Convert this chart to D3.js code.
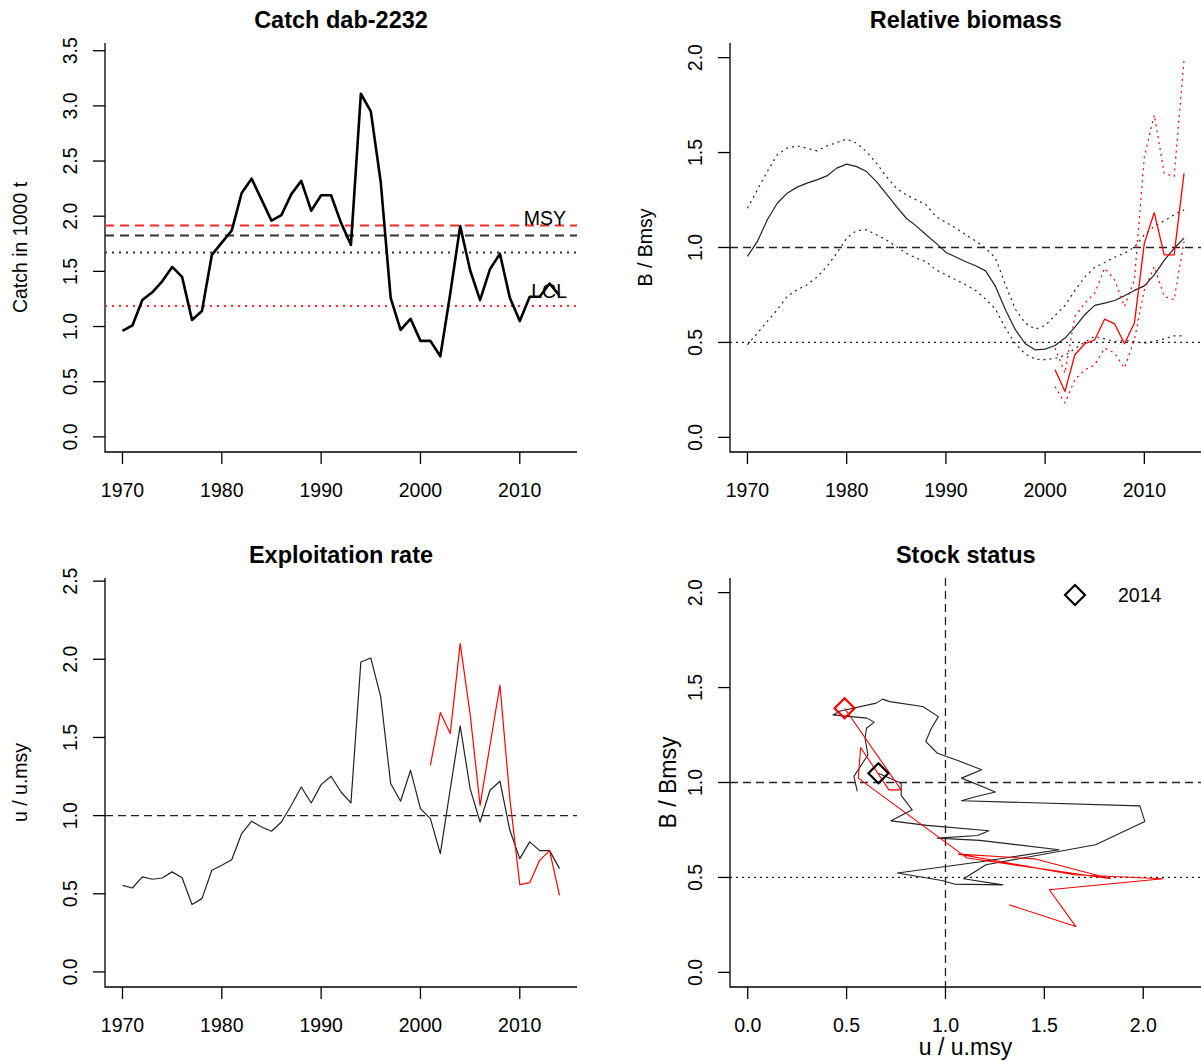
<!DOCTYPE html>
<html>
<head>
<meta charset="utf-8">
<script src="https://cdn.jsdelivr.net/npm/d3@7/dist/d3.min.js"></script>
<style>
  body { margin: 0; background: #fff; }
  text { font-family: "Liberation Sans", Arial, sans-serif; fill: #000; }
</style>
</head>
<body>
<svg id="chart" width="1201" height="1061"></svg>
<script>
// ---- data ----
var years = d3.range(1970, 2015);
var redYears = d3.range(2001, 2015);

var catchK = [0.96, 1.01, 1.24, 1.31, 1.41, 1.54, 1.45, 1.06, 1.14, 1.65,
  1.76, 1.87, 2.21, 2.34, 2.15, 1.96, 2.01, 2.20, 2.32, 2.05,
  2.19, 2.19, 1.94, 1.74, 3.11, 2.95, 2.31, 1.26, 0.97, 1.07,
  0.87, 0.87, 0.73, 1.30, 1.91, 1.51, 1.24, 1.52, 1.66, 1.26,
  1.05, 1.27, 1.27, 1.39, 1.28];
var catchMsyRed = 1.915;
var catchMsy = 1.824;
var catchMean = 1.67;
var catchLcl = 1.186;

var bRel = [0.953, 1.032, 1.146, 1.233, 1.286, 1.318, 1.339, 1.356, 1.377, 1.418,
  1.439, 1.426, 1.400, 1.347, 1.282, 1.216, 1.154, 1.114, 1.067, 1.023,
  0.974, 0.950, 0.925, 0.904, 0.877, 0.795, 0.672, 0.567, 0.493, 0.461,
  0.465, 0.484, 0.523, 0.581, 0.646, 0.695, 0.707, 0.721, 0.746, 0.774,
  0.798, 0.856, 0.932, 0.996, 1.049];
var bUpper = [1.207, 1.304, 1.400, 1.488, 1.523, 1.535, 1.523, 1.509, 1.535, 1.553,
  1.571, 1.549, 1.505, 1.444, 1.374, 1.312, 1.277, 1.251, 1.225, 1.163,
  1.132, 1.102, 1.067, 1.035, 0.996, 0.944, 0.804, 0.675, 0.602, 0.570,
  0.589, 0.642, 0.695, 0.774, 0.844, 0.896, 0.921, 0.949, 0.970, 1.002,
  1.067, 1.111, 1.140, 1.172, 1.198];
var bLower = [0.488, 0.549, 0.611, 0.672, 0.742, 0.777, 0.804, 0.844, 0.900, 0.970,
  1.049, 1.089, 1.093, 1.067, 1.040, 1.005, 0.970, 0.944, 0.926, 0.882,
  0.856, 0.830, 0.804, 0.774, 0.728, 0.675, 0.575, 0.493, 0.439, 0.412,
  0.409, 0.416, 0.432, 0.467, 0.502, 0.532, 0.519, 0.505, 0.511, 0.505,
  0.496, 0.505, 0.519, 0.535, 0.535];

var bRed = [0.356, 0.242, 0.435, 0.493, 0.514, 0.623, 0.598, 0.493, 0.602, 1.023, 1.184, 0.961, 0.961, 1.391];
var bRedUpper = [0.470, 0.339, 0.637, 0.707, 0.760, 0.891, 0.830, 0.689, 0.830, 1.479, 1.698, 1.391, 1.374, 1.991];
var bRedLower = [0.268, 0.181, 0.304, 0.356, 0.382, 0.470, 0.444, 0.365, 0.514, 0.777, 0.900, 0.742, 0.725, 1.032];

var uRel = [0.554, 0.537, 0.608, 0.593, 0.601, 0.640, 0.603, 0.431, 0.469, 0.650,
  0.682, 0.718, 0.885, 0.964, 0.927, 0.900, 0.959, 1.066, 1.183, 1.081,
  1.198, 1.252, 1.151, 1.081, 1.983, 2.008, 1.759, 1.205, 1.092, 1.290,
  1.045, 0.981, 0.757, 1.170, 1.574, 1.173, 0.959, 1.162, 1.220, 0.906,
  0.725, 0.832, 0.776, 0.776, 0.661];
var uRed = [1.322, 1.659, 1.525, 2.100, 1.650, 1.066, 1.450, 1.834, 1.110, 0.559, 0.571, 0.714, 0.776, 0.490];

var yearTicks = [1970, 1980, 1990, 2000, 2010];
var catchTicks = [0, 0.5, 1, 1.5, 2, 2.5, 3, 3.5];
var bTicks = [0, 0.5, 1, 1.5, 2];
var uTicks = [0, 0.5, 1, 1.5, 2, 2.5];
var statusXTicks = [0, 0.5, 1, 1.5, 2];
var legendLabel = '2014';

// ---- layout ----
var tickFont = 19.5;
var titleFont = 23.5;
var tickLen = 12;
var dashStyle = '8,5';
var dotStyle = '2,4';

var svg = d3.select('#chart');

var panels = {
  catch:  {l: 105, r: 577, t: 43, b: 452, xd: [1968.24, 2015.76], yd: [-0.1373, 3.57]},
  bio:    {l: 730, r: 1201.5, t: 43, b: 452, xd: [1968.24, 2015.76], yd: [-0.077, 2.077]},
  expl:   {l: 105, r: 577, t: 578, b: 987, xd: [1968.24, 2015.76], yd: [-0.0964, 2.52]},
  status: {l: 730, r: 1208, t: 578, b: 987, xd: [-0.0895, 2.3275], yd: [-0.077, 2.077]}
};

var fmt1 = d3.format('.1f');

var makeScales = function (p) {
  return {
    x: d3.scaleLinear().domain(p.xd).range([p.l, p.r]),
    y: d3.scaleLinear().domain(p.yd).range([p.b, p.t])
  };
};

var drawFrame = function (p, s, xTicks, yTicks, xFmt, title) {
  var g = svg.append('g');
  g.append('path')
    .attr('d', 'M' + p.l + ',' + p.t + 'V' + p.b + 'H' + p.r)
    .attr('fill', 'none').attr('stroke', '#000').attr('stroke-width', 1.3);

  g.selectAll('.yt').data(yTicks).enter().append('line')
    .attr('x1', p.l - tickLen).attr('x2', p.l)
    .attr('y1', function (d) { return s.y(d); })
    .attr('y2', function (d) { return s.y(d); })
    .attr('stroke', '#000').attr('stroke-width', 1.3);

  g.selectAll('.yl').data(yTicks).enter().append('text')
    .attr('transform', function (d) { return 'translate(' + (p.l - 35) + ',' + s.y(d) + ') rotate(-90)'; })
    .attr('text-anchor', 'middle').attr('dy', '0.35em')
    .style('font-size', tickFont + 'px')
    .text(function (d) { return fmt1(d); });

  g.selectAll('.xt').data(xTicks).enter().append('line')
    .attr('x1', function (d) { return s.x(d); })
    .attr('x2', function (d) { return s.x(d); })
    .attr('y1', p.b).attr('y2', p.b + tickLen)
    .attr('stroke', '#000').attr('stroke-width', 1.3);

  g.selectAll('.xl').data(xTicks).enter().append('text')
    .attr('x', function (d) { return s.x(d); })
    .attr('y', p.b + 45)
    .attr('text-anchor', 'middle')
    .style('font-size', tickFont + 'px')
    .text(xFmt);

  g.append('text')
    .attr('x', (p.l + Math.min(p.r, 1201.5)) / 2)
    .attr('y', p.t - 15)
    .attr('text-anchor', 'middle')
    .style('font-size', titleFont + 'px').style('font-weight', 'bold')
    .text(title);
};

var yLabel = function (x, p, label, size) {
  svg.append('text')
    .attr('transform', 'translate(' + x + ',' + (p.t + p.b) / 2 + ') rotate(-90)')
    .attr('text-anchor', 'middle').attr('dy', '0.35em')
    .style('font-size', size + 'px')
    .text(label);
};

var hLine = function (p, s, v, color, dash, width, x2) {
  svg.append('line')
    .attr('x1', p.l).attr('x2', x2 || p.r)
    .attr('y1', s.y(v)).attr('y2', s.y(v))
    .attr('stroke', color).attr('stroke-width', width)
    .attr('stroke-dasharray', dash);
};

var series = function (s, xs, ys, color, width, dash) {
  var line = d3.line()
    .x(function (d) { return s.x(d[0]); })
    .y(function (d) { return s.y(d[1]); });
  svg.append('path')
    .datum(d3.zip(xs, ys))
    .attr('d', line)
    .attr('fill', 'none')
    .attr('stroke', color)
    .attr('stroke-width', width)
    .attr('stroke-linejoin', 'round')
    .attr('stroke-dasharray', dash || null);
};

var diamond = function (cx, cy, r, color) {
  svg.append('path')
    .attr('d', 'M' + cx + ',' + (cy - r) + 'L' + (cx + r) + ',' + cy + 'L' + cx + ',' + (cy + r) + 'L' + (cx - r) + ',' + cy + 'Z')
    .attr('fill', 'none').attr('stroke', color).attr('stroke-width', 2.2);
};

// ---- Catch ----
var pc = panels.catch;
var sc = makeScales(pc);
drawFrame(pc, sc, yearTicks, catchTicks, function (d) { return d; }, 'Catch dab-2232');
yLabel(20, pc, 'Catch in 1000 t', tickFont);
hLine(pc, sc, catchMsyRed, '#ff2a2a', '9,6', 2);
hLine(pc, sc, catchMsy, '#333', '9,6', 2);
hLine(pc, sc, catchMean, '#333', '2,5', 2);
hLine(pc, sc, catchLcl, '#ff2a2a', '2,5', 2);
series(sc, years, catchK, '#000', 2.6);
svg.append('text').attr('x', 566).attr('y', sc.y(catchMsyRed) - 1)
  .attr('text-anchor', 'end').style('font-size', tickFont + 'px').text('MSY');
svg.append('text').attr('x', 567).attr('y', sc.y(catchLcl) - 8)
  .attr('text-anchor', 'end').style('font-size', tickFont + 'px').text('LCL');

// ---- Relative biomass ----
var pb = panels.bio;
var sb = makeScales(pb);
drawFrame(pb, sb, yearTicks, bTicks, function (d) { return d; }, 'Relative biomass');
yLabel(645, pb, 'B / Bmsy', tickFont);
hLine(pb, sb, 1, '#222', dashStyle, 1.3, 1201);
hLine(pb, sb, 0.5, '#222', dotStyle, 1.3, 1201);
series(sb, years, bUpper, '#222', 1.2, dotStyle);
series(sb, years, bLower, '#222', 1.2, dotStyle);
series(sb, years, bRel, '#222', 1.2);
series(sb, redYears, bRedUpper, 'red', 1.2, dotStyle);
series(sb, redYears, bRedLower, 'red', 1.2, dotStyle);
series(sb, redYears, bRed, 'red', 1.3);

// ---- Exploitation rate ----
var pe = panels.expl;
var se = makeScales(pe);
drawFrame(pe, se, yearTicks, uTicks, function (d) { return d; }, 'Exploitation rate');
yLabel(20, pe, 'u / u.msy', tickFont);
hLine(pe, se, 1, '#222', dashStyle, 1.3);
series(se, years, uRel, '#222', 1.2);
series(se, redYears, uRed, 'red', 1.2);

// ---- Stock status ----
var ps = panels.status;
var ss = makeScales(ps);
drawFrame(ps, ss, statusXTicks, bTicks, function (d) { return fmt1(d); }, 'Stock status');
yLabel(668, ps, 'B / Bmsy', 23);
svg.append('text').attr('x', 965.5).attr('y', 1055)
  .attr('text-anchor', 'middle').style('font-size', '23px').text('u / u.msy');
hLine(ps, ss, 1, '#222', dashStyle, 1.3, 1201);
hLine(ps, ss, 0.5, '#222', dotStyle, 1.3, 1201);
svg.append('line')
  .attr('x1', ss.x(1)).attr('x2', ss.x(1))
  .attr('y1', ps.t).attr('y2', ps.b)
  .attr('stroke', '#222').attr('stroke-width', 1.3).attr('stroke-dasharray', dashStyle);
series(ss, uRel, bRel, '#222', 1.1);
series(ss, uRed, bRed, 'red', 1.1);
diamond(ss.x(uRel[uRel.length - 1]), ss.y(bRel[bRel.length - 1]), 10, '#000');
diamond(ss.x(uRed[uRed.length - 1]), ss.y(bRed[bRed.length - 1]), 10, 'red');

// legend
diamond(1075, 595, 10, '#000');
svg.append('text').attr('x', 1118).attr('y', 602)
  .style('font-size', tickFont + 'px').text(legendLabel);
</script>
</body>
</html>
